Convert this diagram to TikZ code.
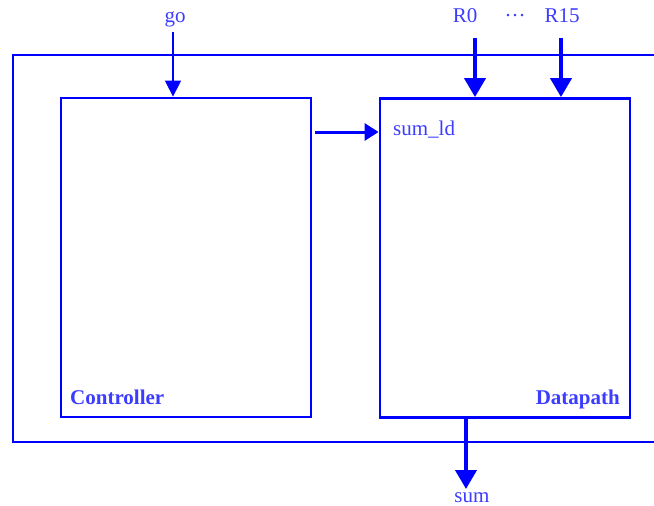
\documentclass[tikz,border=0pt]{standalone}
\usepackage{fontspec}
\setmainfont{Liberation Serif}
\usetikzlibrary{arrows.meta}
\definecolor{lineblue}{RGB}{0,0,255}
\definecolor{textblue}{RGB}{60,60,255}
\begin{document}
\begin{tikzpicture}[x=1pt,y=-1pt,
  box/.style={draw=lineblue,line width=2.8pt,minimum width=250pt,minimum height=319pt,inner sep=0pt},
  lbl/.style={text=textblue,font=\fontsize{21}{23}\selectfont,inner sep=0pt},
  blbl/.style={text=textblue,font=\fontsize{21}{23}\selectfont\bfseries,inner sep=0pt},
  thin/.style={draw=lineblue,line width=1.5pt,-{Triangle[length=16pt,width=16pt]}},
  thick/.style={draw=lineblue,line width=4pt,-{Triangle[length=19pt,width=21pt]}},
  mid/.style={draw=lineblue,line width=3pt,-{Triangle[length=14pt,width=17pt]}}]
\useasboundingbox (0,0) rectangle (654,506);
% outer box (open to the right)
\draw[lineblue,line width=2.8pt] (654,55) -- (13,55) -- (13,442) -- (654,442);
\node[box] (ctrl) at (186,257.5) {};
\node[box] (dp) at (505,258) {};
\node[blbl,anchor=base west] (ctrllbl) at (70,404) {Controller};
\node[blbl,anchor=base east] (dplbl) at (620,404) {Datapath};
\node[lbl,anchor=base west] (sumld) at (393,135) {sum\_ld};
\node[lbl,anchor=base] (go) at (175,23) {go};
\node[lbl,anchor=base] (r0) at (465,23) {R0};
\node[lbl,anchor=base] (dots) at (515,23) {···};
\node[lbl,anchor=base] (r15) at (562,23) {R15};
\node[lbl,anchor=base] (sum) at (472,502) {sum};
\coordinate (goS) at (173,32);
\coordinate (r0S) at (475,38);
\coordinate (r15S) at (561,38);
\coordinate (sumE) at (466,489);
\coordinate (ldS) at (315,132);
\draw[thin] (goS) -- (goS |- ctrl.north);
\draw[thick] (r0S) -- (r0S |- dp.north);
\draw[thick] (r15S) -- (r15S |- dp.north);
\draw[mid] (ldS) -- (ldS -| dp.west);
\draw[thick] (sumE |- dp.south) -- (sumE);
\end{tikzpicture}
\end{document}
